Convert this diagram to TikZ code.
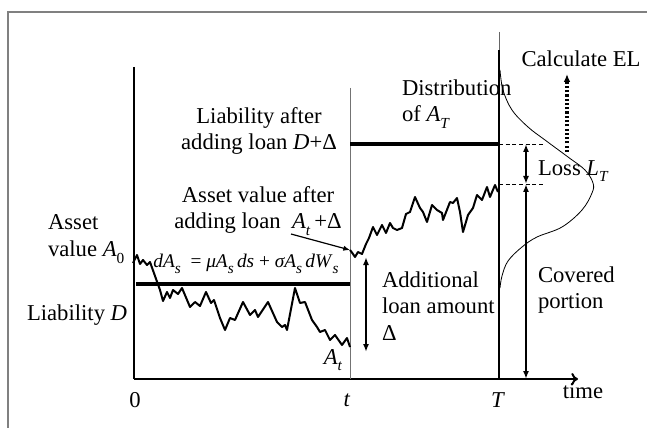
\documentclass[tikz,border=0pt]{standalone}
\usepackage{fontspec}
\setmainfont{Liberation Serif}
\usetikzlibrary{arrows.meta}
\newcommand{\lsub}[1]{\raisebox{-0.3em}{\fontsize{11.5}{11.5}\selectfont #1}}
\newcommand{\mi}[1]{\textit{#1}}
\begin{document}
\begin{tikzpicture}[x=0.75pt,y=-0.75pt,
  lbl/.style={font=\fontsize{17}{20}\selectfont, inner sep=0pt, outer sep=0pt},
  eqlbl/.style={font=\fontsize{14.5}{17}\selectfont, inner sep=0pt},
  frame/.style={draw=black!50, line width=1.1pt},
  axisline/.style={line width=2pt},
  thinaxis/.style={draw=black!55, line width=0.7pt},
  liab/.style={line width=2.4pt},
  walk/.style={line width=1.5pt, line join=round},
  dbl/.style={line width=1.2pt, {Latex[length=6pt,width=4.5pt]}-{Latex[length=6pt,width=4.5pt]}},
  guide/.style={line width=0.6pt, dash pattern=on 3pt off 2pt},
  dens/.style={line width=0.6pt}
]
\useasboundingbox (0,0) rectangle (647,428);
\fill[white] (0,0) rectangle (647,428);
% frame
\draw[frame] (8,428) -- (8,12) -- (647,12);

% coordinates
\coordinate (O) at (134,379);
\coordinate (Ytop) at (134,67);
\coordinate (Xend) at (578,379);
\coordinate (tb) at (350,379);
\coordinate (tt) at (350,88);
\coordinate (Tb) at (499,379);
\coordinate (Tt) at (499,50);
\coordinate (Tthin) at (499,32);

% axes
\draw[axisline] (Ytop) -- (O);
\draw[line width=1.5pt, -{To[length=5pt,width=9pt]}] (O) -- (Xend);
\draw[thinaxis] (tt) -- (tb);
\draw[line width=2pt] (Tt) -- (Tb);
\draw[line width=0.6pt, black!60] (Tthin) -- (Tt);

% liabilities
\coordinate (D1) at (136,284); \coordinate (D2) at (350,284);
\coordinate (DD1) at (350,144); \coordinate (DD2) at (499,144);
\draw[liab] (D1) -- (D2);
\draw[liab] (DD1) -- (DD2);

% random walks
\draw[walk] (133,263) -- (137,255) -- (140,264) -- (143,260) -- (147,265) -- (150,262)
  -- (155,276) -- (160,290) -- (163,301) -- (167,292) -- (170,298) -- (173,290)
  -- (178,294) -- (182,288) -- (190,307) -- (195,302) -- (200,306) -- (206,292)
  -- (211,303) -- (214,300) -- (220,318) -- (225,330) -- (230,318) -- (235,320)
  -- (243,302) -- (250,315) -- (255,310) -- (258,317) -- (268,302) -- (277,322)
  -- (282,327) -- (285,325) -- (287,330) -- (295,288) -- (300,303) -- (305,302)
  -- (312,320) -- (317,327) -- (320,332) -- (325,330) -- (330,340) -- (335,335)
  -- (342,345) -- (347,338) -- (350,347);
\coordinate (W2s) at (350,250);
\draw[walk] (W2s) -- (353,254) -- (355,257) -- (358,252) -- (362,254) -- (366,244)
  -- (369,238) -- (373,227) -- (377,235) -- (382,225) -- (386,233) -- (390,223)
  -- (393,228) -- (397,230) -- (402,228) -- (406,214) -- (410,212) -- (415,197)
  -- (420,208) -- (423,212) -- (427,222) -- (432,205) -- (437,210) -- (442,213)
  -- (443,220) -- (450,202) -- (453,203) -- (457,198) -- (460,212) -- (463,232)
  -- (468,215) -- (473,208) -- (477,195) -- (482,200) -- (487,187) -- (490,197)
  -- (495,185) -- (498,192);

% distribution of A_T
\draw[dens] plot[smooth, tension=0.6] coordinates {(500,70) (503,90) (512,110) (528,127)
  (545,140) (568,157) (585,170) (593,183) (592,193) (582,210) (562,227) (537,237)
  (522,247) (508,261) (502,276) (500,288)};

% dashed guides
\coordinate (g1) at (543,144); \coordinate (g2) at (543,184); \coordinate (Tm) at (499,184);
\draw[guide] (DD2) -- (g1);
\draw[guide] (Tm) -- (g2);

% loss and covered arrows
\coordinate (La) at (526,144); \coordinate (Lb) at (526,184); \coordinate (Cb) at (526,379);
\draw[dbl] (La) -- (Lb);
\draw[dbl] (Lb) -- (Cb);

% additional loan arrow
\coordinate (Da) at (366,257); \coordinate (Db) at (366,352);
\draw[dbl] (Da) -- (Db);

% dotted EL arrow
\coordinate (Ea) at (567,152); \coordinate (Eb) at (567,74);
\draw[line width=2.6pt, dash pattern=on 1.6pt off 1.6pt, -{Latex[length=6pt,width=5pt]}] (Ea) -- (Eb);

% labels
\node[lbl] (calc) at (581,59) {Calculate EL};
\node[lbl, anchor=west, align=left] (dist) at (402,104) {Distribution\\of \mi{A}\lsub{\mi{T}}};
\node[lbl, align=center] (liabafter) at (259,131) {Liability after\\adding loan \mi{D}+Δ};
\node[lbl, align=center] (assetafter) at (258,211) {Asset value after\\adding loan\ \ \mi{A}\lsub{\mi{t}}\,+Δ};
\node[lbl, anchor=west, align=left] (asset0) at (48,239) {Asset\\value \mi{A}\lsub{0}};
\node[lbl, anchor=west] (liabD) at (27,315) {Liability \mi{D}};
\node[eqlbl] (eq) at (246,264) {\mi{dA}\lsub{\mi{s}} \ = \textit{μA}\lsub{\mi{s}}\,\mi{ds} + \textit{σA}\lsub{\mi{s}}\,\mi{dW}\lsub{\mi{s}}};
\node[lbl, anchor=west, align=left] (addl) at (382,306) {Additional\\loan amount\\Δ};
\node[lbl, anchor=west] (loss) at (538,171) {Loss \mi{L}\lsub{\mi{T}}};
\node[lbl, anchor=west, align=left] (cov) at (538,290) {Covered\\portion};
\node[lbl] (time) at (583,391) {time};
\node[lbl] (zero) at (135,400) {0};
\node[lbl] (tlab) at (347,400) {\mi{t}};
\node[lbl] (Tlab) at (498,400) {\mi{T}};
\node[lbl] (At) at (333,360) {\mi{A}\lsub{\mi{t}}};

% pointer arrow
\coordinate (pa) at (291,234);
\draw[line width=0.9pt, -{Latex[length=5pt,width=4pt]}] (pa) -- (W2s);
\end{tikzpicture}
\end{document}
